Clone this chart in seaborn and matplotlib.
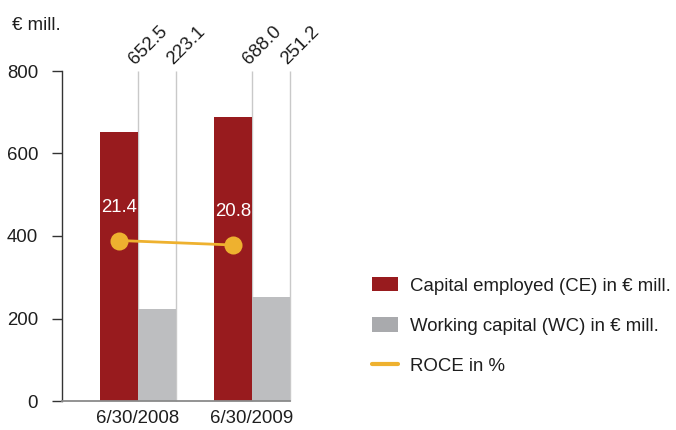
import numpy as np
import pandas as pd
import matplotlib
matplotlib.use('Agg')
import matplotlib.pyplot as plt
from matplotlib.patches import Patch
from matplotlib.lines import Line2D
import seaborn as sns

# data
dates = ['6/30/2008', '6/30/2009']
capital_employed = [652.5, 688.0]
working_capital = [223.1, 251.2]
roce = [21.4, 20.8]
series_names = ['Capital employed (CE) in € mill.',
                'Working capital (WC) in € mill.',
                'ROCE in %']

RED = '#981b1e'
GRAY = '#bdbec0'
GRAY_LEG = '#a9aaad'
ORANGE = '#eeb12f'
TXT = '#1e1e1e'
FS = 13.4

sns.set_style('white')
plt.rcParams['font.family'] = ['Liberation Sans', 'DejaVu Sans']

df = pd.DataFrame({
    'date': dates * 2,
    'value': capital_employed + working_capital,
    'series': [series_names[0]] * len(dates) + [series_names[1]] * len(dates),
})

fig = plt.figure(figsize=(6.76, 4.30), dpi=100)
ax = fig.add_axes([62 / 676, 1 - 401 / 430, 228 / 676, 330 / 430])

sns.barplot(data=df, x='date', y='value', hue='series',
            palette=[RED, GRAY], width=2 / 3, gap=0, saturation=1,
            linewidth=0, legend=False, ax=ax, zorder=2)

ax.set_xlim(-2 / 3, len(dates) - 2 / 3)
ax.set_ylim(0, 800)
ax.set_yticks([0, 200, 400, 600, 800])
ax.set_xlabel('')
ax.set_ylabel('')

# thin guide lines + rotated value labels above each bar
for p in ax.patches:
    h = p.get_height()
    xr = p.get_x() + p.get_width()
    ax.vlines(xr, 0, 800, color='#c9c9c9', lw=1, zorder=0.5, clip_on=False)
    ax.annotate(f'{h:.1f}', xy=(xr, 800), xytext=(-3, 6),
                textcoords='offset pixels', rotation=45,
                rotation_mode='anchor', ha='left', va='baseline',
                fontsize=FS, color=TXT, annotation_clip=False)

# ROCE line on hidden secondary axis
ce_x = [p.get_x() + p.get_width() / 2 for p in ax.patches[:len(dates)]]
ax2 = ax.twinx()
ax2.set_position(ax.get_position())
ax2.set_ylim(0, 44)
sns.lineplot(x=ce_x, y=roce, ax=ax2, color=ORANGE, lw=2, marker='o',
             markersize=13, markeredgewidth=0)
for x, v in zip(ce_x, roce):
    ax2.annotate(f'{v:.1f}', xy=(x, v), xytext=(0, 33),
                 textcoords='offset pixels', ha='center', va='center',
                 fontsize=FS, color='white')
ax2.axis('off')
ax2.set_xlim(ax.get_xlim())

for s in ['top', 'right']:
    ax.spines[s].set_visible(False)
ax.spines['left'].set_color('#333333')
ax.spines['left'].set_linewidth(1)
ax.spines['bottom'].set_color('#8a8a8a')
ax.spines['bottom'].set_linewidth(1.3)
ax.tick_params(axis='y', length=7.2, width=1, color='#333333', pad=10,
               labelsize=FS, labelcolor=TXT, left=True)
ax.tick_params(axis='x', length=0, pad=6.5, labelsize=FS, labelcolor=TXT)

fig.text(12 / 676, 1 - 25 / 430, '€ mill.', fontsize=FS, color=TXT,
         ha='left', va='center')

handles = [Patch(facecolor=RED, edgecolor='none'),
           Patch(facecolor=GRAY_LEG, edgecolor='none'),
           Line2D([0], [0], color=ORANGE, lw=3)]
fig.legend(handles, series_names, loc='upper left',
           bbox_to_anchor=(372 / 676, 1 - 277 / 430), frameon=False,
           fontsize=FS, labelcolor=TXT, handlelength=1.4, handleheight=0.8,
           handletextpad=0.65, labelspacing=1.22, borderpad=0,
           borderaxespad=0)

fig.savefig('out.png', dpi=100)
